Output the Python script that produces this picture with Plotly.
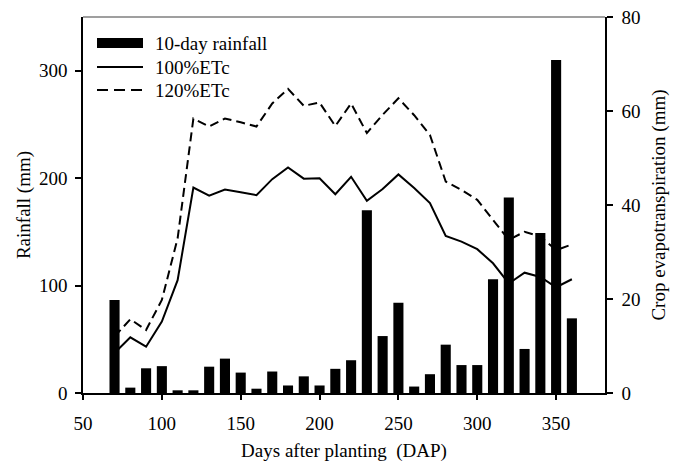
import plotly.graph_objects as go

days = [70, 80, 90, 100, 110, 120, 130, 140, 150, 160, 170, 180, 190, 200, 210,
        220, 230, 240, 250, 260, 270, 280, 290, 300, 310, 320, 330, 340, 350, 360]
rainfall = [86.5, 5, 23, 25, 2.5, 2.5, 24.5, 32, 19, 4, 20, 7, 15.5, 7, 22.5,
            30.5, 170, 53, 84, 6, 17.5, 45, 26, 26, 106, 182, 41, 149, 310, 69.5]
etc100 = [8.5, 11.85, 9.85, 15.2, 24.0, 43.7, 42.0, 43.3, 42.7, 42.1, 45.5, 48.0, 45.6, 45.7, 42.3,
          46.0, 40.9, 43.4, 46.5, 43.6, 40.4, 33.4, 32.2, 30.6, 27.6, 23.3, 25.6, 24.7, 22.5, 24.2]
etc120 = [12, 15.7, 13.4, 19.8, 32.9, 58.4, 56.7, 58.4, 57.6, 56.7, 61.6, 64.7, 61.1, 61.8, 56.8,
          61.6, 55.3, 59.2, 62.7, 59.1, 54.9, 45.0, 43.2, 41.1, 36.8, 32.6, 34.3, 33.3, 30.4, 31.6]
legend_labels = ["10-day rainfall", "100%ETc", "120%ETc"]

FONT = "Liberation Serif, Times New Roman, serif"
FS = 19

fig = go.Figure()
fig.add_trace(go.Scatter(x=days, y=etc100, mode="lines", name=legend_labels[1],
                         line=dict(color="black", width=2), yaxis="y", showlegend=False))
fig.add_trace(go.Scatter(x=days, y=etc120, mode="lines", name=legend_labels[2],
                         line=dict(color="black", width=2, dash="9px,5px"), yaxis="y", showlegend=False))
fig.add_trace(go.Bar(x=days, y=rainfall, name=legend_labels[0], width=6.4,
                     marker=dict(color="black", line=dict(width=0)), yaxis="y2", showlegend=False))

# manual legend
W, H = 522.0, 376.0
def px(xp):
    return (xp - 83) / W
def py(yp):
    return (393 - yp) / H

shapes = [
    dict(type="rect", xref="paper", yref="paper", x0=px(97), x1=px(143), y0=py(48), y1=py(38),
         fillcolor="black", line=dict(width=0)),
    dict(type="line", xref="paper", yref="paper", x0=px(97), x1=px(143), y0=py(67), y1=py(67),
         line=dict(color="black", width=2)),
    dict(type="line", xref="paper", yref="paper", x0=px(97), x1=px(143), y0=py(90), y1=py(90),
         line=dict(color="black", width=2, dash="11px,6px")),
    dict(type="line", xref="paper", yref="paper", x0=0, x1=1, y0=1, y1=1,
         line=dict(color="#7f7f7f", width=1.5)),
]
annotations = []
for lab, yy in zip(legend_labels, [43, 67, 90]):
    annotations.append(dict(xref="paper", yref="paper", x=px(153), y=py(yy), text=lab,
                            showarrow=False, xanchor="left", yanchor="middle",
                            font=dict(family=FONT, size=FS, color="black")))

fig.update_layout(
    width=683, height=464,
    margin=dict(l=83, r=78, t=17, b=71),
    paper_bgcolor="white", plot_bgcolor="white",
    font=dict(family=FONT, size=FS, color="black"),
    barmode="overlay",
    shapes=shapes, annotations=annotations,
    xaxis=dict(range=[50, 381], tickvals=[50, 100, 150, 200, 250, 300, 350],
               showgrid=False, zeroline=False, showline=True, linecolor="black", linewidth=1.5,
               ticks="outside", ticklen=5, tickwidth=1.5, tickcolor="black",
               ticklabelstandoff=7, automargin=False,
               title=dict(text="Days after planting\u00a0 (DAP)", standoff=11,
                          font=dict(family=FONT, size=FS))),
    yaxis=dict(range=[0, 80], tickvals=[0, 20, 40, 60, 80], side="right",
               showgrid=False, zeroline=False, showline=True, linecolor="black", linewidth=1.5,
               ticks="outside", ticklen=6, tickwidth=1.5, tickcolor="black",
               ticklabelstandoff=5, automargin=False,
               title=dict(text="Crop evapotranspiration (mm)", standoff=12,
                          font=dict(family=FONT, size=FS))),
    yaxis2=dict(range=[0, 350], tickvals=[0, 100, 200, 300], side="left", overlaying="y",
                showgrid=False, zeroline=False, showline=True, linecolor="black", linewidth=1.5,
                ticks="outside", ticklen=6, tickwidth=1.5, tickcolor="black",
                ticklabelstandoff=4, automargin=False,
                title=dict(text="Rainfall (mm)", standoff=3,
                           font=dict(family=FONT, size=FS))),
)

fig.write_html("out.html")
